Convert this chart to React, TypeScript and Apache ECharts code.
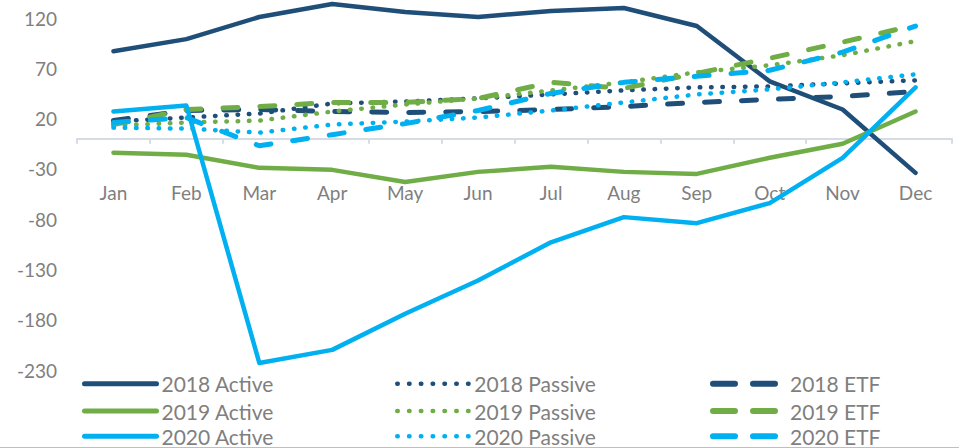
import React, { useEffect, useRef } from "react";
import * as echarts from "echarts";

const months = ["Jan", "Feb", "Mar", "Apr", "May", "Jun", "Jul", "Aug", "Sep", "Oct", "Nov", "Dec"];
const yTicks = { min: -230, max: 120, interval: 50 };

const active2018 = [87, 99, 121, 134, 126, 121, 127, 130, 112, 57, 29, -34];
const passive2018 = [17, 21, 25, 35, 37, 40, 44, 48, 51, 52, 55, 58];
const etf2018 = [18, 28, 29, 27, 26, 27, 29, 32, 36, 39, 42, 47];
const active2019 = [-14, -16, -29, -31, -43, -33, -28, -33, -35, -19, -5, 27];
const passive2019 = [13, 16, 18, 27, 34, 40, 48, 56, 66, 73, 83, 97];
const etf2019 = [14, 29, 32, 36, 36, 40, 56, 50, 65, 80, 96, 113];
const active2020 = [27, 33, -223, -210, -174, -141, -103, -78, -84, -64, -19, 51];
const passive2020 = [11, 10, 6, 14, 17, 21, 28, 36, 44, 49, 56, 64];
const etf2020 = [16, 21, -7, 4, 15, 28, 45, 56, 62, 68, 86, 112];

const DARK = "#1F4E79";
const GREEN = "#70AD47";
const LIGHT = "#00B0F0";
const GRAY = "#7f7f7f";
const FONT = "Lato, 'Open Sans', sans-serif";

type Kind = "active" | "passive" | "etf";

const seriesDefs: { name: string; data: number[]; color: string; kind: Kind }[] = [
  { name: "2018 Active", data: active2018, color: DARK, kind: "active" },
  { name: "2018 Passive", data: passive2018, color: DARK, kind: "passive" },
  { name: "2018 ETF", data: etf2018, color: DARK, kind: "etf" },
  { name: "2019 Active", data: active2019, color: GREEN, kind: "active" },
  { name: "2019 Passive", data: passive2019, color: GREEN, kind: "passive" },
  { name: "2019 ETF", data: etf2019, color: GREEN, kind: "etf" },
  { name: "2020 Active", data: active2020, color: LIGHT, kind: "active" },
  { name: "2020 Passive", data: passive2020, color: LIGHT, kind: "passive" },
  { name: "2020 ETF", data: etf2020, color: LIGHT, kind: "etf" },
];

const colLeft: Record<Kind, number> = { active: 82, passive: 395, etf: 710 };
const rowCenter = [383.7, 411, 436.3];

function chartLineStyle(color: string, kind: Kind) {
  if (kind === "active") return { color, width: 4.5, type: "solid", cap: "round", join: "round" };
  if (kind === "passive") return { color, width: 4.5, type: [0.5, 10.8], cap: "round" };
  return { color, width: 5, type: [15, 22], cap: "round" };
}

function legendLineStyle(color: string, kind: Kind) {
  if (kind === "active") return { color, width: 5, type: "solid", cap: "round" };
  if (kind === "passive") return { color, width: 4.5, type: [0.5, 11.3], cap: "round" };
  return { color, width: 6, type: [22, 18], cap: "round" };
}

function makeLegends() {
  return seriesDefs.map((s, i) => {
    const row = Math.floor(i / 3);
    return {
      orient: "horizontal",
      left: colLeft[s.kind],
      top: rowCenter[row] - 11,
      padding: 0,
      itemWidth: 72,
      itemHeight: 1,
      selectedMode: false,
      itemStyle: { opacity: 0, borderWidth: 0 },
      textStyle: { color: GRAY, fontSize: 21, fontFamily: FONT, lineHeight: 22 },
      data: [
        {
          name: s.name,
          lineStyle: legendLineStyle(s.color, s.kind),
          itemStyle: { opacity: 0, borderWidth: 0 },
        },
      ],
    };
  });
}

export default function App() {
  const ref = useRef<HTMLDivElement>(null);

  useEffect(() => {
    if (!ref.current) return;
    const chart = echarts.init(ref.current, undefined, { renderer: "svg" });
    chart.setOption({
      animation: false,
      backgroundColor: "#ffffff",
      grid: { left: 77, right: 7, top: 18, bottom: 78, containLabel: false },
      legend: makeLegends(),
      xAxis: {
        type: "category",
        data: months,
        boundaryGap: true,
        axisLine: { show: true, onZero: true, lineStyle: { color: "#d6dce4", width: 2 } },
        axisTick: { show: true, length: 5, lineStyle: { color: "#d6dce4", width: 2 } },
        axisLabel: { color: GRAY, fontSize: 19, fontFamily: FONT, margin: -187 },
        splitLine: { show: false },
      },
      yAxis: {
        type: "value",
        min: yTicks.min,
        max: yTicks.max,
        interval: yTicks.interval,
        axisLine: { show: false },
        axisTick: { show: false },
        splitLine: { show: false },
        axisLabel: { color: GRAY, fontSize: 19, fontFamily: FONT, margin: 20 },
      },
      graphic: [
        {
          type: "line",
          shape: { x1: 0, y1: 447.5, x2: 959, y2: 447.5 },
          style: { stroke: "#bfbfbf", lineWidth: 1 },
          silent: true,
        },
      ],
      series: seriesDefs.map((s) => ({
        name: s.name,
        type: "line",
        data: s.data,
        symbol: "none",
        showSymbol: false,
        smooth: false,
        clip: false,
        color: s.color,
        lineStyle: chartLineStyle(s.color, s.kind),
        emphasis: { disabled: true },
        silent: true,
      })),
    });
    return () => chart.dispose();
  }, []);

  return (
    <div
      ref={ref}
      style={{ position: "fixed", left: 0, top: 0, width: 959, height: 448, background: "#fff" }}
    />
  );
}
